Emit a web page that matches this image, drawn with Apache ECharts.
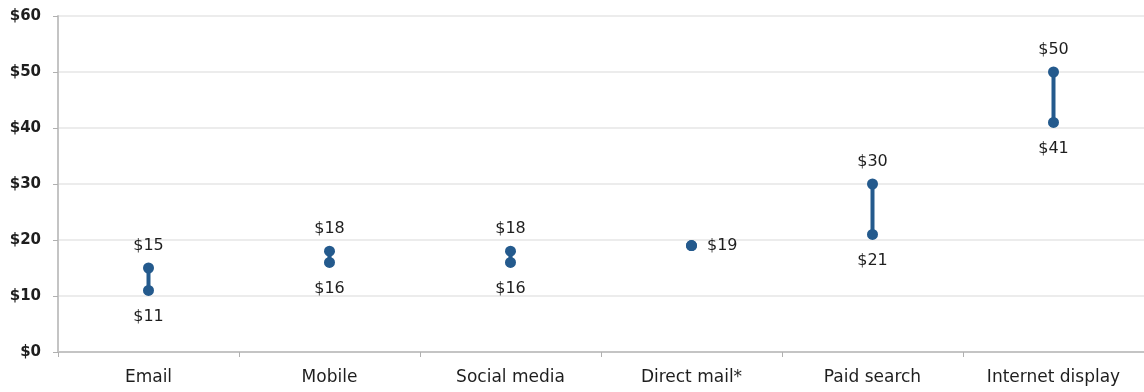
<!DOCTYPE html>
<html>
<head>
<meta charset="utf-8">
<script src="https://cdn.jsdelivr.net/npm/echarts@6/dist/echarts.min.js"></script>
<style>
  html, body { margin: 0; padding: 0; background: #fff; }
  #chart { width: 1144px; height: 392px; }
</style>
</head>
<body>
<div id="chart"></div>
<script>
// Cost ranges per channel (USD)
const categories = ['Email', 'Mobile', 'Social media', 'Direct mail*', 'Paid search', 'Internet display'];
const highValues = [15, 18, 18, 19, 30, 50];
const lowValues  = [11, 16, 16, 19, 21, 41];
const yTicks = [0, 10, 20, 30, 40, 50, 60];

const markColor = '#245a8d';
const textColor = '#1e1e1e';
const font = 'DejaVu Sans';

const rangeData = categories.map((c, i) => [i, lowValues[i], highValues[i]]);

// A single-value channel gets one point labelled on its right
const highData = categories.map((c, i) => {
  const single = highValues[i] === lowValues[i];
  return single
    ? { value: [i, highValues[i]], label: { position: 'right', distance: 10 } }
    : { value: [i, highValues[i]] };
});
const lowData = categories.map((c, i) =>
  highValues[i] === lowValues[i] ? { value: [i, lowValues[i]], label: { show: false } } : { value: [i, lowValues[i]] }
);

const chart = echarts.init(document.getElementById('chart'));
chart.setOption({
  animation: false,
  grid: { left: 58, right: -2, top: 16, bottom: 40 },
  xAxis: {
    type: 'category',
    data: categories,
    axisLine: { lineStyle: { color: '#c4c4c4', width: 2 } },
    axisTick: { show: true, length: 5, lineStyle: { color: '#b0b0b0' } },
    axisLabel: { color: textColor, fontFamily: font, fontSize: 17, margin: 17 },
    splitLine: { show: false }
  },
  yAxis: {
    type: 'value',
    min: yTicks[0],
    max: yTicks[yTicks.length - 1],
    interval: 10,
    axisLine: { show: true, lineStyle: { color: '#c4c4c4', width: 2 } },
    axisTick: { show: true, length: 5, lineStyle: { color: '#b0b0b0' } },
    axisLabel: {
      color: textColor, fontFamily: font, fontSize: 15, fontWeight: 'bold', margin: 17,
      formatter: v => '$' + v
    },
    splitLine: { lineStyle: { color: '#e6e6e6', width: 1.5 } }
  },
  series: [
    {
      type: 'custom',
      data: rangeData,
      renderItem: (params, api) => {
        const lo = api.coord([api.value(0), api.value(1)]);
        const hi = api.coord([api.value(0), api.value(2)]);
        return {
          type: 'line',
          shape: { x1: lo[0], y1: lo[1], x2: hi[0], y2: hi[1] },
          style: { stroke: markColor, lineWidth: 4 }
        };
      },
      z: 2
    },
    {
      type: 'scatter',
      data: highData,
      symbolSize: 11,
      itemStyle: { color: markColor, opacity: 1 },
      label: {
        show: true, position: 'top', distance: 9,
        color: textColor, fontFamily: font, fontSize: 16,
        formatter: p => '$' + p.value[1]
      },
      z: 3
    },
    {
      type: 'scatter',
      data: lowData,
      symbolSize: 11,
      itemStyle: { color: markColor, opacity: 1 },
      label: {
        show: true, position: 'bottom', distance: 13,
        color: textColor, fontFamily: font, fontSize: 16,
        formatter: p => '$' + p.value[1]
      },
      z: 3
    }
  ]
});
</script>
</body>
</html>
